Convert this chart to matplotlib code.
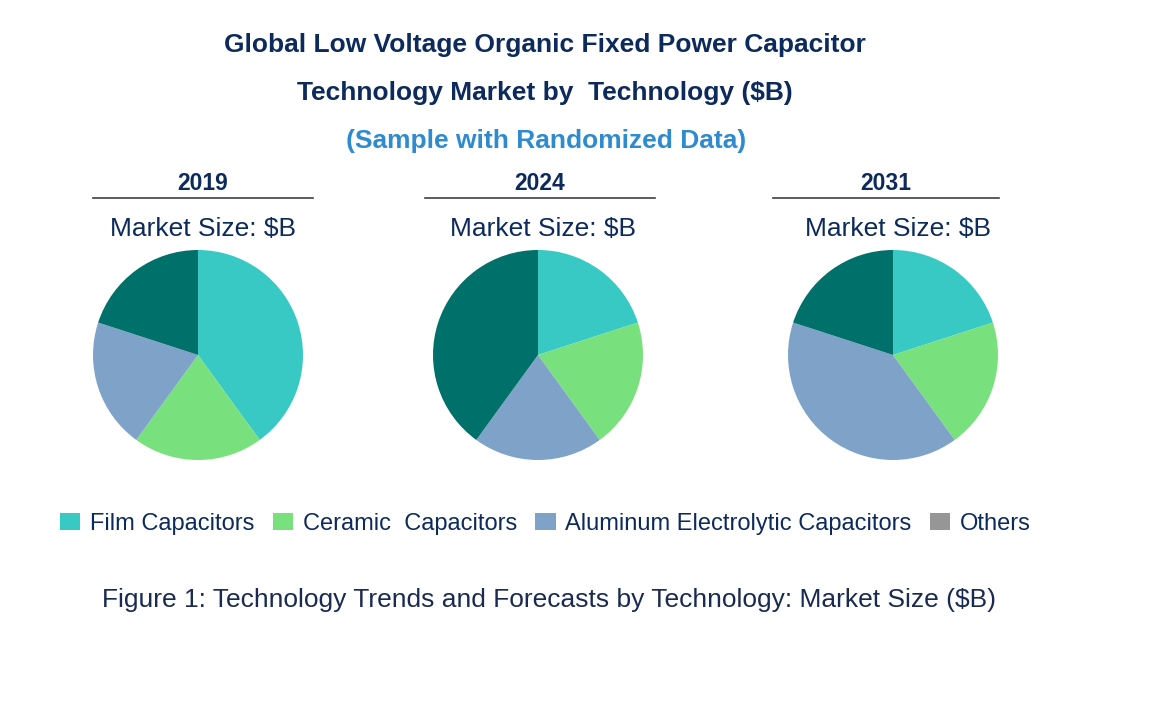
import matplotlib.pyplot as plt
from matplotlib.patches import Patch

plt.rcParams['font.family'] = ['Liberation Sans', 'DejaVu Sans']

# data
years = ['2019', '2024', '2031']
technologies = ['Film Capacitors', 'Ceramic  Capacitors', 'Aluminum Electrolytic Capacitors', 'Others']
shares_2019 = [40, 20, 20, 20]
shares_2024 = [20, 20, 20, 40]
shares_2031 = [20, 20, 40, 20]
all_shares = [shares_2019, shares_2024, shares_2031]

pie_colors = ['#38c9c4', '#78e07c', '#7fa3c8', '#00706a']
legend_colors = ['#38c9c4', '#78e07c', '#7fa3c8', '#969696']
navy = '#0d2a5c'

W, H = 1170, 711
fig = plt.figure(figsize=(W / 100, H / 100), dpi=100)

def fx(px):
    return px / W

def fy(py):
    return 1 - py / H

# titles
fig.text(fx(545), fy(45), 'Global Low Voltage Organic Fixed Power Capacitor',
         ha='center', va='center', fontsize=19, fontweight='bold', color=navy)
fig.text(fx(545), fy(93), 'Technology Market by  Technology ($B)',
         ha='center', va='center', fontsize=19, fontweight='bold', color=navy)
fig.text(fx(546), fy(141), '(Sample with Randomized Data)',
         ha='center', va='center', fontsize=19, fontweight='bold', color='#2e8bd0')

centers = [198, 538, 893]
header_spans = [(93, 313), (425, 655), (773, 999)]
radius = 105

for year, shares, cx, span in zip(years, all_shares, centers, header_spans):
    mid = (span[0] + span[1]) / 2
    fig.text(fx(mid), fy(184), year, ha='center', va='center',
             fontsize=16.5, fontweight='bold', color=navy)
    fig.add_artist(plt.Line2D([fx(span[0]), fx(span[1])], [fy(198), fy(198)],
                              color='#404040', lw=1.2))
    fig.text(fx(cx + 5), fy(229), 'Market Size: $B', ha='center', va='center',
             fontsize=19, color=navy)

    ax = fig.add_axes([fx(cx - radius), fy(355 + radius), fx(2 * radius), (2 * radius) / H])
    ax.pie(shares, colors=pie_colors, startangle=90, counterclock=False,
           wedgeprops=dict(linewidth=0))
    ax.set_xlim(-1, 1)
    ax.set_ylim(-1, 1)
    ax.set_aspect('equal')

# legend
handles = [Patch(facecolor=c, edgecolor='none') for c in legend_colors]
leg = fig.legend(handles, technologies, loc='center left', bbox_to_anchor=(fx(60), fy(524)),
                 ncol=4, frameon=False, fontsize=17, handlelength=0.85, handleheight=0.7,
                 handletextpad=0.42, columnspacing=0.78, borderpad=0, borderaxespad=0)
for t in leg.get_texts():
    t.set_color(navy)

fig.text(fx(549), fy(600), 'Figure 1: Technology Trends and Forecasts by Technology: Market Size ($B)',
         ha='center', va='center', fontsize=19, color='#1a2a50')

fig.savefig('out.png', dpi=100, facecolor='white')
